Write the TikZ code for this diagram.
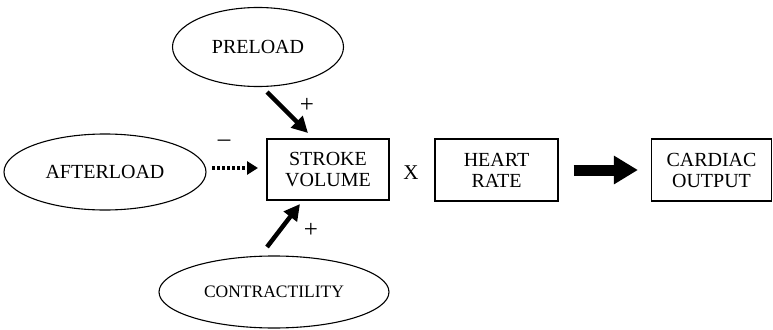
\documentclass[tikz,border=0pt]{standalone}
\usepackage{fontspec}
\setmainfont{Liberation Serif}
\usetikzlibrary{shapes.geometric,arrows.meta}
\tikzset{
  oval/.style={draw,ellipse,line width=1.1pt,inner sep=0pt,font=\fontsize{20}{21}\selectfont},
  sbox/.style={draw,rectangle,line width=1.2pt,inner sep=0pt,align=center,font=\fontsize{20}{21}\selectfont},
  thickarr/.style={line width=4.5pt,-{Triangle[length=16pt,width=16pt]}},
  dotarr/.style={line width=4pt,dash pattern=on 3pt off 2pt,-{Triangle[length=11pt,width=13pt]}},
  bigarr/.style={line width=11pt,-{Triangle[length=24pt,width=27pt]}},
  lbl/.style={font=\fontsize{21}{22}\selectfont,inner sep=0pt},
  sign/.style={font=\fontsize{25}{26}\selectfont,inner sep=0pt}
}
\begin{document}
\begin{tikzpicture}[x=1pt,y=-1pt]
\useasboundingbox (0,0) rectangle (773,329);
\node[oval,minimum width=202pt,minimum height=76pt] (aft) at (105,172) {AFTERLOAD};
\node[oval,minimum width=171pt,minimum height=79pt] (pre) at (258,47) {PRELOAD};
\node[oval,minimum width=230pt,minimum height=72pt,font=\fontsize{17.5}{20}\selectfont] (con) at (274,292) {CONTRACTILITY};
\node[sbox,minimum width=122pt,minimum height=61pt] (sv) at (328,169.5) {STROKE\\VOLUME};
\node[sbox,minimum width=123pt,minimum height=62pt] (hr) at (496.5,170) {HEART\\RATE};
\node[sbox,minimum width=120pt,minimum height=62pt] (co) at (711.5,170) {CARDIAC\\OUTPUT};
\coordinate (p1) at (267,92);
\coordinate (p2) at (308,133);
\coordinate (c1) at (267,247);
\coordinate (c2) at (300,204);
\coordinate (a1) at (212,168);
\coordinate (a2) at (258,168);
\draw[thickarr] (p1) -- (p2);
\draw[thickarr] (c1) -- (c2);
\draw[dotarr] (a1) -- (a2);
\draw[bigarr,shorten <=15pt,shorten >=13pt] (hr.east) -- (co.west);
\node[sign] (plus1) at (307,105) {+};
\node[sign] (plus2) at (311,230) {+};
\node[sign] (minus) at (224,143) {–};
\node[lbl] (times) at (411,173) {X};
\end{tikzpicture}
\end{document}
